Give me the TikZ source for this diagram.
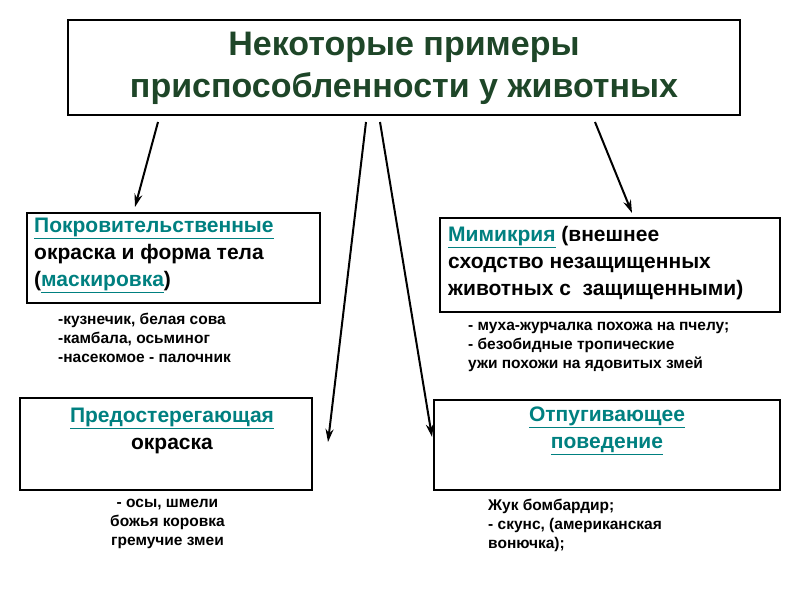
\documentclass[tikz,border=0pt]{standalone}
\usepackage{fontspec}
\setmainfont{Liberation Sans}
\usepackage{xcolor}
\usetikzlibrary{arrows.meta}
\definecolor{titlegreen}{RGB}{30,70,40}
\definecolor{linkteal}{RGB}{0,128,128}
\newcommand{\lnk}[1]{\textcolor{linkteal}{\underline{#1}}}
\tikzset{
  arr/.style={-{Stealth[length=13pt,width=8pt]}, line width=2pt},
  boxtext/.style={font=\bfseries\fontsize{21}{27}\selectfont},
  note/.style={anchor=north west, inner sep=0pt, font=\bfseries\fontsize{15.5}{19}\selectfont, align=left}
}
\begin{document}
\begin{tikzpicture}[x=1pt,y=-1pt]
\useasboundingbox (0,0) rectangle (800,600);

% Boxes
\draw[line width=1.5pt] (68,20) rectangle (740,115);
\node (title) at (404,68) [align=center, text=titlegreen, font=\bfseries\fontsize{34}{42}\selectfont] {Некоторые примеры\\приспособленности у животных};

\draw[line width=1.5pt] (27,213) rectangle (320,303);
\node (left) at (34,218) [note, boxtext] {\lnk{Покровительственные}\\окраска и форма тела\\(\lnk{маскировка})};

\draw[line width=1.5pt] (440,218) rectangle (780,312);
\node (right) at (448,226) [note, boxtext] {\lnk{Мимикрия} (внешнее\\сходство незащищенных\\животных с\ \ защищенными)};

\draw[line width=1.5pt] (20,398) rectangle (312,490);
\node (warn) at (172,431) [align=center, boxtext] {\lnk{Предостерегающая}\\окраска};

\draw[line width=1.5pt] (434,400) rectangle (780,490);
\node (scare) at (607,431) [align=center, boxtext] {\lnk{Отпугивающее}\\\lnk{поведение}};

% Notes
\node (n1) at (58,313) [note] {-кузнечик, белая сова\\-камбала, осьминог\\-насекомое - палочник};
\node (n2) at (468,322) [note] {- муха-журчалка похожа на пчелу;\\- безобидные тропические\\ужи похожи на ядовитых змей};
\node (n3) at (110,499) [note, align=center] {- осы, шмели\\божья коровка\\гремучие змеи};
\node (n4) at (488,499) [note] {Жук бомбардир;\\- скунс, (американская\\вонючка);};

% Arrows
\coordinate (a1) at (158,122); \coordinate (b1) at (135,207);
\coordinate (a2) at (366,122); \coordinate (b2) at (328,442);
\coordinate (a3) at (380,122); \coordinate (b3) at (432,437);
\coordinate (a4) at (595,122); \coordinate (b4) at (632,213);
\foreach \i in {1,...,4} \draw[arr] (a\i) -- (b\i);
\end{tikzpicture}
\end{document}
